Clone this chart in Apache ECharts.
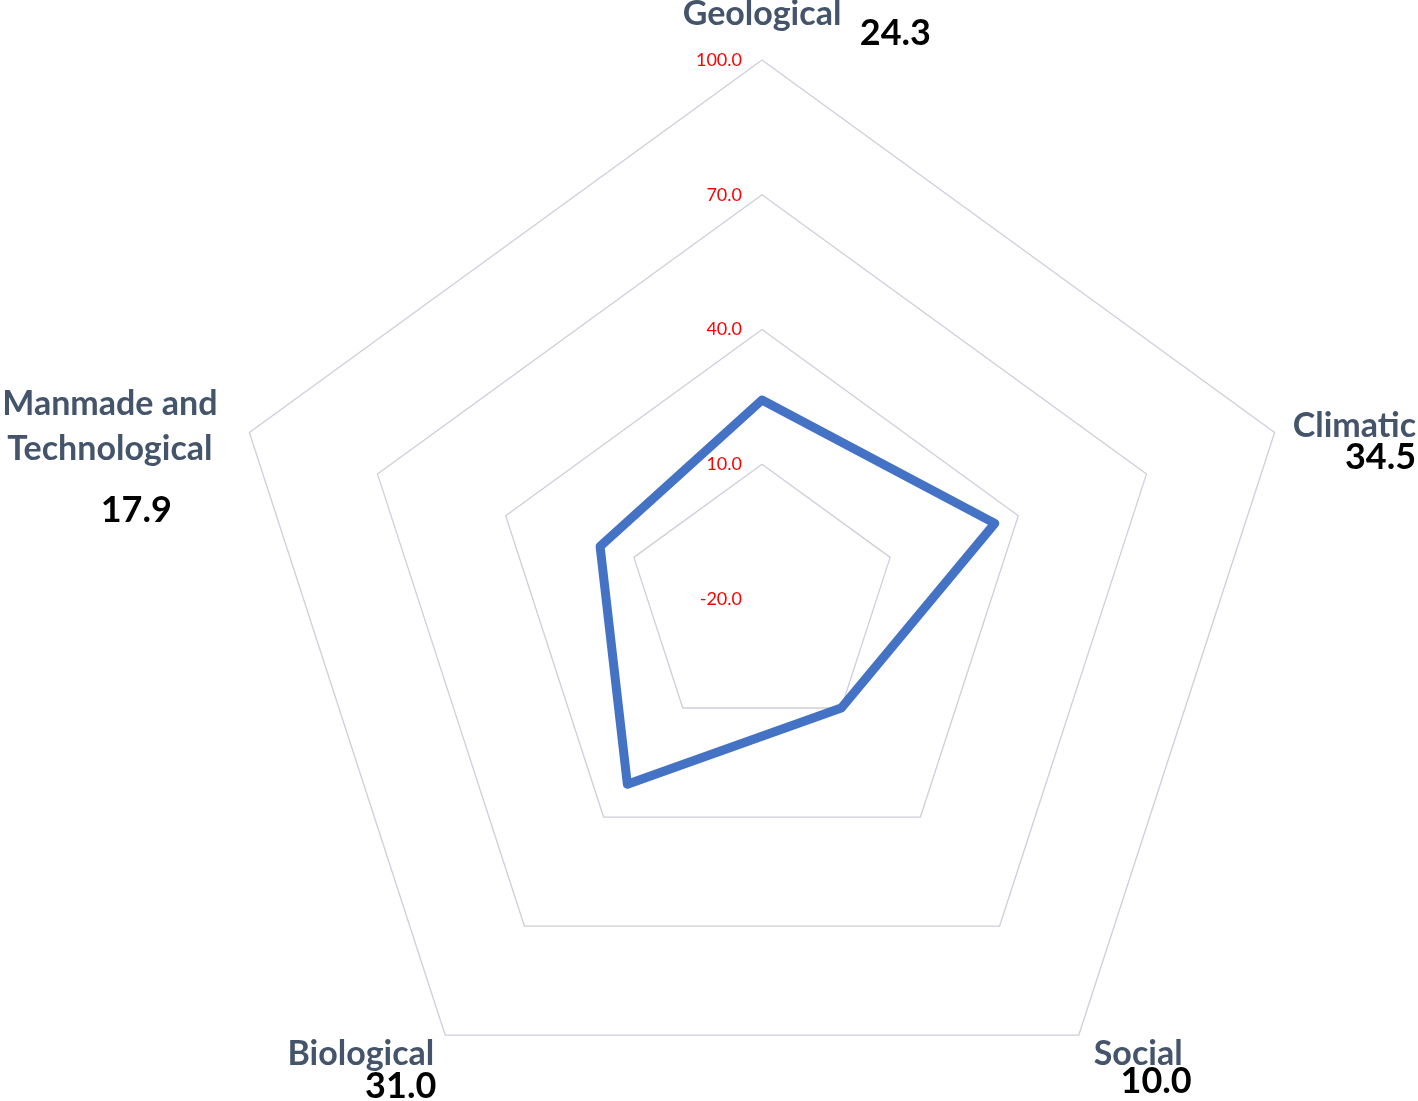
<!DOCTYPE html>
<html>
<head>
<meta charset="utf-8">
<script src="https://cdn.jsdelivr.net/npm/echarts@6/dist/echarts.min.js"></script>
<style>
html,body{margin:0;padding:0;background:#fff;}
#chart{width:1418px;height:1101px;}
</style>
</head>
<body>
<div id="chart"></div>
<script>
// ---- data (clockwise from top) ----
const categories = ['Geological', 'Climatic', 'Social', 'Biological', 'Manmade and\nTechnological'];
const values = [24.3, 34.5, 10.0, 31.0, 17.9];
const axisMin = -20;
const axisMax = 100;
const axisInterval = 30;

// ECharts lays radar indicators out counter-clockwise; reorder so the picture runs clockwise
const order = [0, 4, 3, 2, 1];

const chart = echarts.init(document.getElementById('chart'), null, {renderer: 'canvas'});

const nameFont = 'Lato';
const nameColor = '#44546A';
const valColor = '#000000';

function nameStyle(extra) {
  return Object.assign({fontFamily: nameFont, fontWeight: 'bold', fontSize: 34, color: nameColor, verticalAlign: 'middle'}, extra);
}
function valStyle(extra) {
  return Object.assign({fontFamily: nameFont, fontWeight: 'bold', fontSize: 36, color: valColor, verticalAlign: 'middle'}, extra);
}
function spStyle(h) {
  return {fontSize: 1, lineHeight: h, verticalAlign: 'middle'};
}

const rich = {
  n0: nameStyle({lineHeight: 28, width: 338, align: 'center'}),
  v0: valStyle({lineHeight: 10, align: 'right'}),
  s1: spStyle(27),
  n1: nameStyle({lineHeight: 30, width: 132, align: 'right'}),
  v1: valStyle({lineHeight: 34, align: 'right'}),
  s2: spStyle(46),
  n2: nameStyle({lineHeight: 30, width: 107, align: 'center'}),
  v2: valStyle({lineHeight: 24, align: 'right'}),
  s3: spStyle(56),
  n3: nameStyle({lineHeight: 30, align: 'right'}),
  v3: valStyle({lineHeight: 34, align: 'right'}),
  g3: {fontSize: 1, width: 5, align: 'right', lineHeight: 30, verticalAlign: 'middle'},
  g3b: {fontSize: 1, width: 3, align: 'right', lineHeight: 34, verticalAlign: 'middle'},
  s4: spStyle(73),
  n4: nameStyle({lineHeight: 45, width: 260, align: 'center'}),
  v4: valStyle({lineHeight: 79, align: 'right'}),
  g4: {fontSize: 1, width: 68, align: 'right', lineHeight: 79, verticalAlign: 'middle'}
};

function formatName(name) {
  const idx = categories.indexOf(name);
  const v = values[idx].toFixed(1);
  const lines = categories[idx].split('\n');
  if (idx === 0) return '{n0|' + lines[0] + '}\n{v0|' + v + '}';
  if (idx === 1) return '{s1| }\n{n1|' + lines[0] + '}\n{v1|' + v + '}';
  if (idx === 2) return '{s2| }\n{n2|' + lines[0] + '}\n{v2|' + v + '}';
  if (idx === 3) return '{s3| }\n{n3|' + lines[0] + '}{g3| }\n{v3|' + v + '}{g3b| }';
  return '{s4| }\n' + lines.map(l => '{n4|' + l + '}').join('\n') + '\n{v4|' + v + '}{g4| }';
}

const indicator = order.map((i, k) => {
  const o = {name: categories[i], min: axisMin, max: axisMax};
  if (k === 0) o.axisLabel = {show: true};
  return o;
});
const seriesValues = order.map(i => values[i]);

const option = {
  backgroundColor: '#ffffff',
  animation: false,
  radar: {
    center: [762, 599],
    radius: 539,
    startAngle: 90,
    splitNumber: (axisMax - axisMin) / axisInterval,
    shape: 'polygon',
    nameGap: 10,
    indicator: indicator,
    axisName: {
      formatter: formatName,
      rich: rich
    },
    axisLine: {show: false},
    axisTick: {show: false},
    splitArea: {show: false},
    splitLine: {lineStyle: {color: '#cfcedb', width: 1.3}},
    axisLabel: {
      show: false,
      color: '#FF0000',
      fontFamily: 'Lato',
      fontSize: 18,
      margin: 20,
      formatter: v => Number(v).toFixed(1)
    }
  },
  series: [{
    type: 'radar',
    symbol: 'none',
    lineStyle: {color: '#4472C4', width: 9, join: 'round', cap: 'round'},
    data: [{value: seriesValues, name: 'Score'}]
  }]
};
chart.setOption(option);
</script>
</body>
</html>
